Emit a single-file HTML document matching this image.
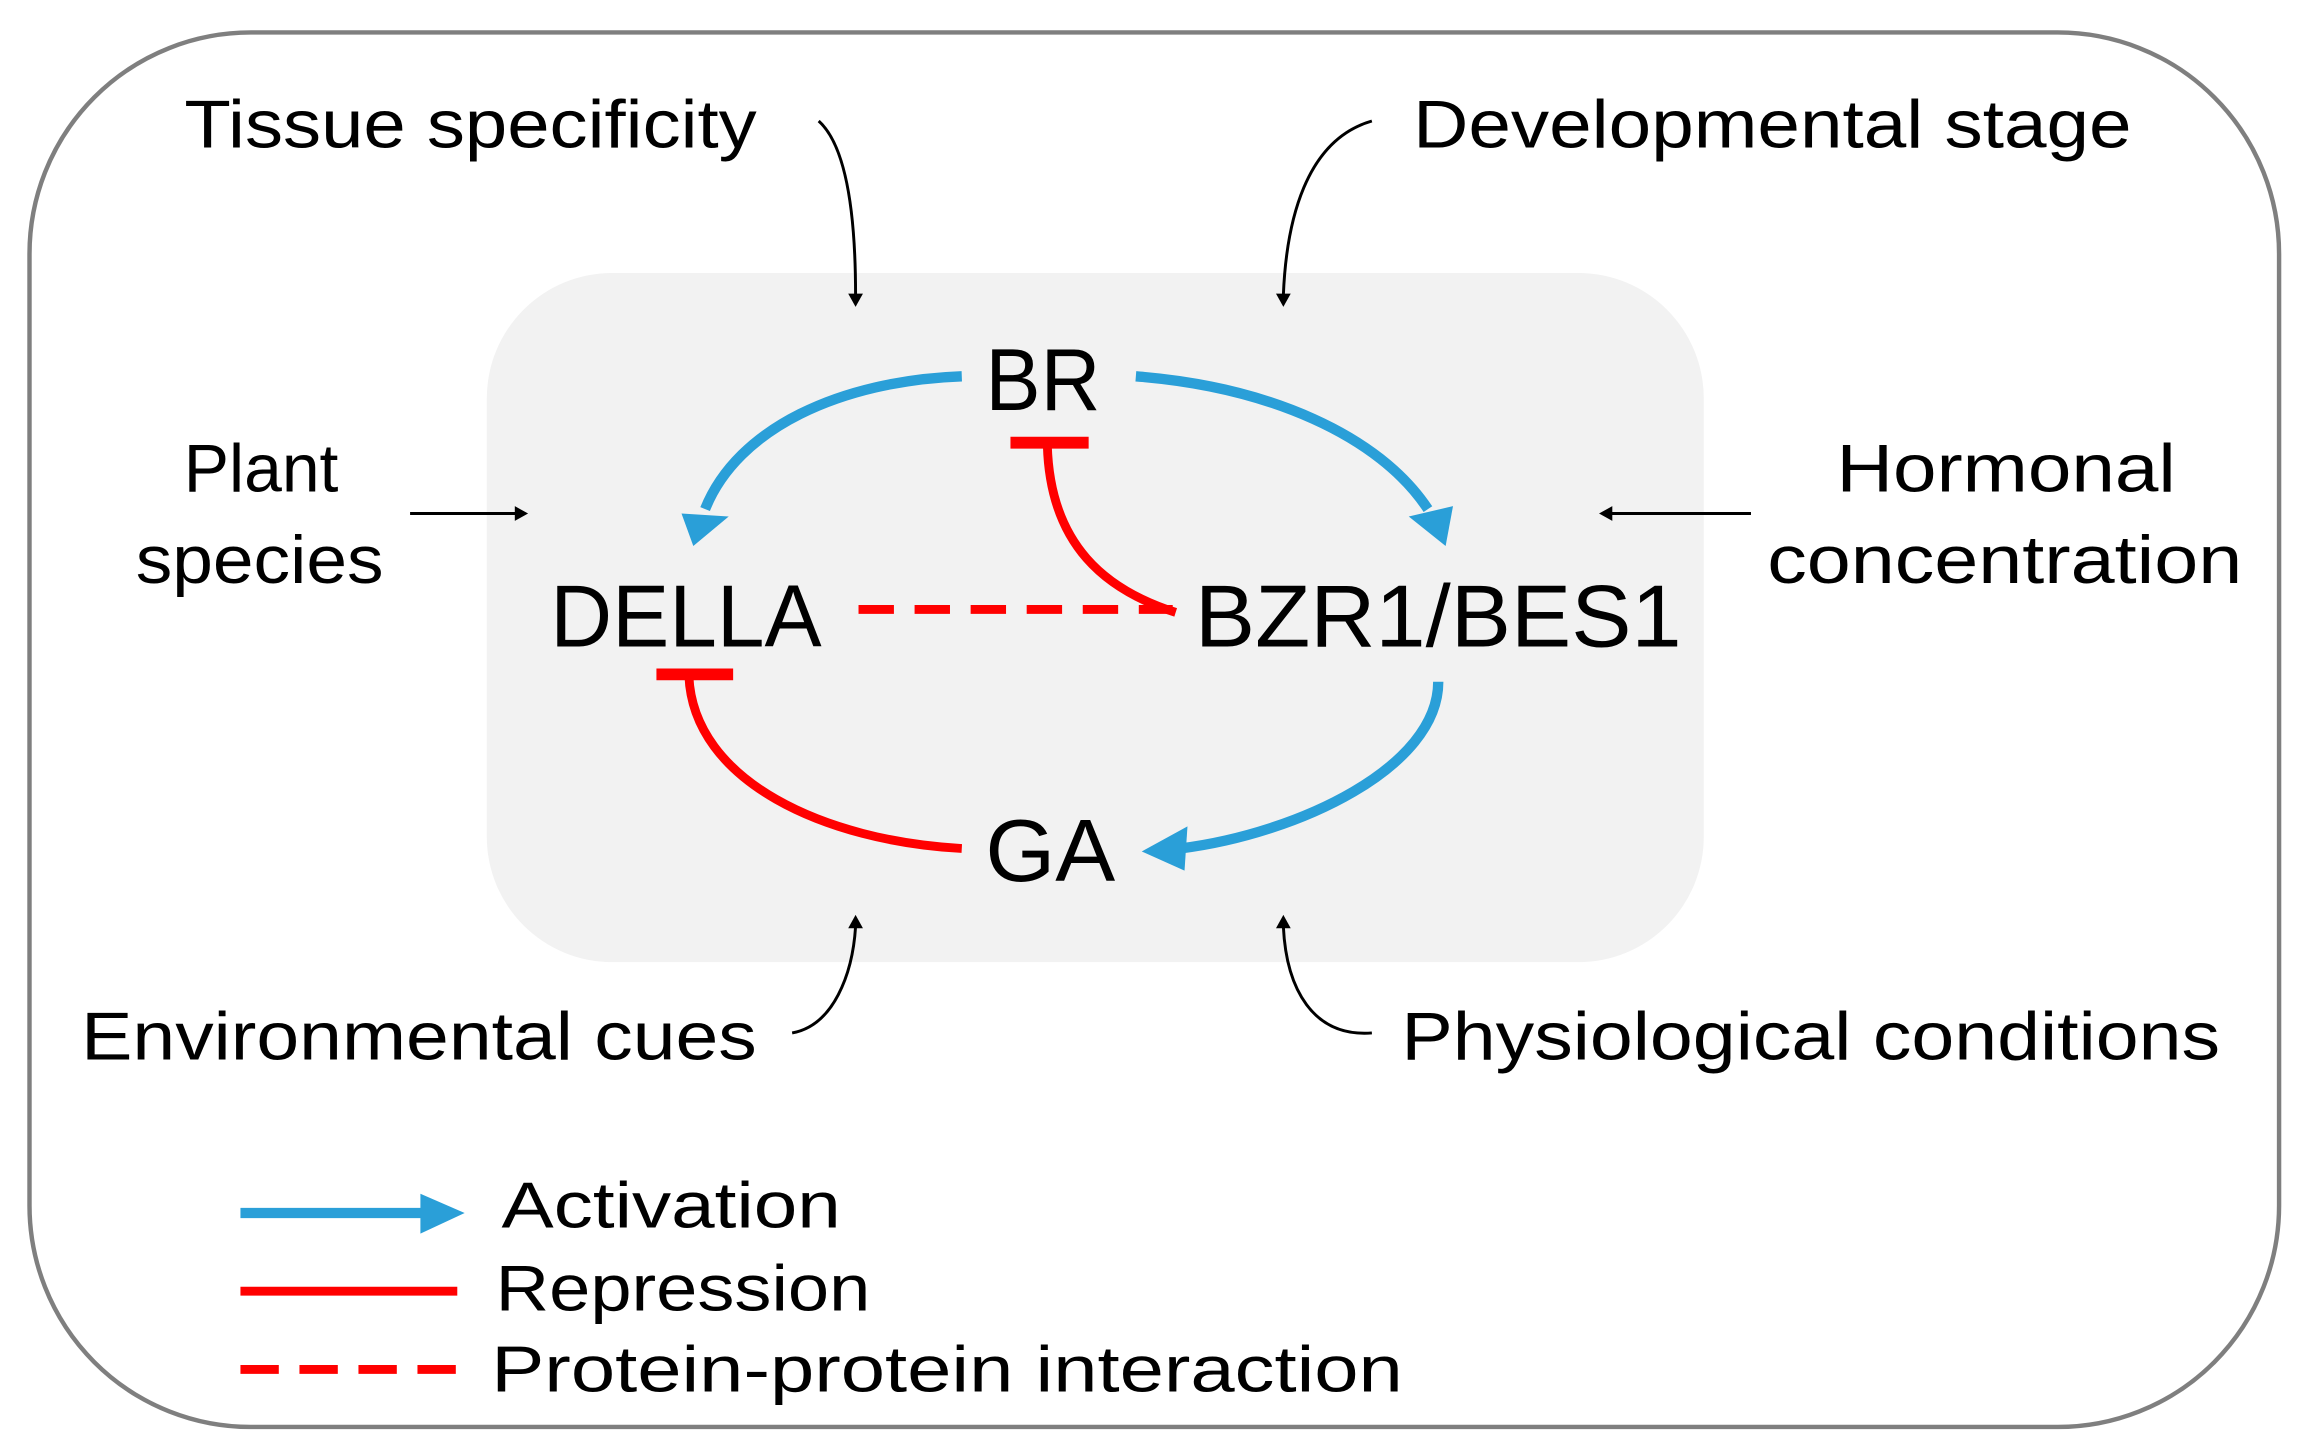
<!DOCTYPE html>
<html><head><meta charset="utf-8"><style>
html,body{margin:0;padding:0;background:#fff;}
svg{display:block;}
text{font-family:"Liberation Sans",sans-serif;fill:#000;}
</style></head><body>
<svg width="2313" height="1455" viewBox="0 0 1568 986" preserveAspectRatio="none" xmlns="http://www.w3.org/2000/svg">
<defs>
<marker id="ab" markerWidth="10" markerHeight="10" refX="2" refY="5" orient="auto" markerUnits="userSpaceOnUse" viewBox="0 0 10 10">
</marker>
</defs>
<rect x="20" y="22" width="1525" height="945" rx="150" ry="150" fill="#fff" stroke="#7f7f7f" stroke-width="3"/>
<rect x="330" y="185" width="825" height="467" rx="85" ry="85" fill="#f2f2f2"/>

<g font-size="46">
<text x="125" y="100" textLength="388" lengthAdjust="spacingAndGlyphs">Tissue specificity</text>
<text x="958" y="100" textLength="487" lengthAdjust="spacingAndGlyphs">Developmental stage</text>
<text x="177" y="333" text-anchor="middle">Plant</text>
<text x="92" y="395" textLength="168" lengthAdjust="spacingAndGlyphs">species</text>
<text x="1245" y="333" textLength="230" lengthAdjust="spacingAndGlyphs">Hormonal</text>
<text x="1198" y="395" textLength="322" lengthAdjust="spacingAndGlyphs">concentration</text>
<text x="55" y="718" textLength="458" lengthAdjust="spacingAndGlyphs">Environmental cues</text>
<text x="950" y="718" textLength="555" lengthAdjust="spacingAndGlyphs">Physiological conditions</text>
</g>
<g font-size="60">
<text x="668" y="278" textLength="78" lengthAdjust="spacingAndGlyphs">BR</text>
<text x="373" y="438" textLength="184" lengthAdjust="spacingAndGlyphs">DELLA</text>
<text x="810" y="438" textLength="330" lengthAdjust="spacingAndGlyphs">BZR1/BES1</text>
<text x="668" y="597" textLength="88" lengthAdjust="spacingAndGlyphs">GA</text>
</g>
<g font-size="44">
<text x="340" y="832" textLength="230" lengthAdjust="spacingAndGlyphs">Activation</text>
<text x="336" y="888" textLength="254" lengthAdjust="spacingAndGlyphs">Repression</text>
<text x="333" y="943" textLength="618" lengthAdjust="spacingAndGlyphs">Protein-protein interaction</text>
</g>

<!-- blue arrows -->
<g fill="none" stroke="#2a9fd8" stroke-width="7">
<path d="M652,255 C570,258 500,290 478,345"/>
<path d="M770,255 C860,262 935,295 968,345"/>
<path d="M975,462 C975,520 880,565 800,575"/>
<line x1="163" y1="822" x2="290" y2="822"/>
</g>
<g fill="#2a9fd8">
<polygon points="462,348 494,350 470,370"/>
<polygon points="955,350 985,343 980,370"/>
<polygon points="774,577 805,560 803,590"/>
<polygon points="285,809 315,822 285,836"/>
</g>

<!-- red -->
<g fill="none" stroke="#ff0000" stroke-width="6">
<path d="M652,575 C560,570 470,530 467,458"/>
<line x1="445" y1="457" x2="497" y2="457" stroke-width="8"/>
<path d="M797,415 C750,400 712,370 710,302"/>
<line x1="685" y1="300" x2="738" y2="300" stroke-width="8"/>
<line x1="582" y1="413" x2="795" y2="413" stroke-dasharray="24,14"/>
<line x1="163" y1="875" x2="310" y2="875"/>
<line x1="163" y1="928" x2="310" y2="928" stroke-dasharray="26,14"/>
</g>

<!-- black arrows -->
<g fill="none" stroke="#000" stroke-width="2">
<path d="M555,82 C575,100 580,150 580,200"/>
<path d="M930,82 C885,95 872,150 870,200"/>
<line x1="278" y1="348" x2="350" y2="348"/>
<line x1="1187" y1="348" x2="1092" y2="348"/>
<path d="M537,700 C565,695 578,660 580,628"/>
<path d="M930,700 C890,703 872,670 870,628"/>
</g>
<g fill="#000">
<polygon points="575,199 585,199 580,208"/>
<polygon points="865,199 875,199 870,208"/>
<polygon points="349,343 349,353 358,348"/>
<polygon points="1093,343 1093,353 1084,348"/>
<polygon points="575,629 585,629 580,620"/>
<polygon points="865,629 875,629 870,620"/>
</g>
</svg>
</body></html>
